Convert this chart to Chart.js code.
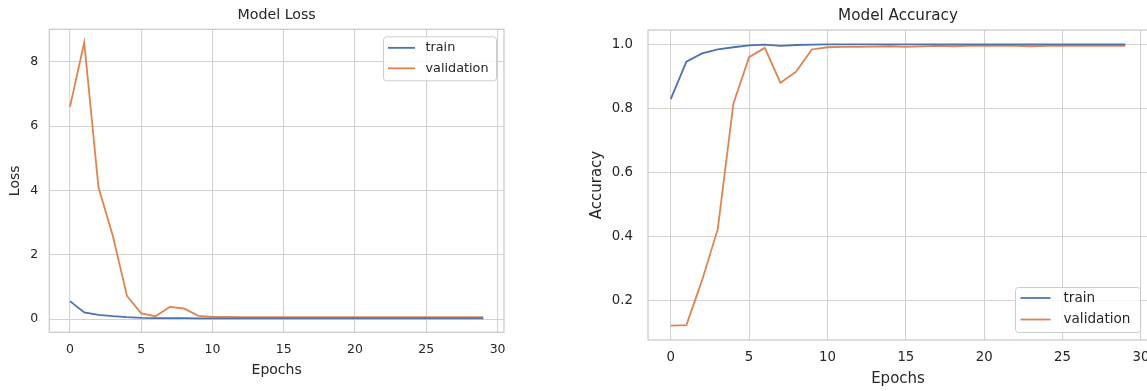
<!DOCTYPE html>
<html><head><meta charset="utf-8">
<script src="https://cdn.jsdelivr.net/npm/chart.js@4.4.0/dist/chart.umd.min.js"></script>
<style>
html,body{margin:0;padding:0;background:#fff;overflow:hidden;width:1147px;height:391px;}
canvas{position:absolute;top:0;}
#c1{left:0;} #c2{left:560px;}
</style></head><body>
<canvas id="c1" width="560" height="391"></canvas>
<canvas id="c2" width="600" height="391"></canvas>
<script>
const epochs = [0,1,2,3,4,5,6,7,8,9,10,11,12,13,14,15,16,17,18,19,20,21,22,23,24,25,26,27,28,29];
const trainLoss = [0.56,0.21,0.13,0.09,0.06,0.04,0.03,0.03,0.03,0.02,0.02,0.02,0.02,0.02,0.02,0.02,0.02,0.02,0.02,0.02,0.02,0.02,0.02,0.02,0.02,0.02,0.02,0.02,0.02,0.02];
const valLoss = [6.6,8.6,4.1,2.6,0.72,0.18,0.09,0.38,0.33,0.1,0.07,0.07,0.06,0.06,0.06,0.06,0.06,0.06,0.06,0.06,0.06,0.06,0.06,0.06,0.06,0.06,0.06,0.06,0.06,0.06];
const trainAcc = [0.829,0.946,0.972,0.984,0.991,0.997,0.999,0.995,0.998,0.999,1.0,1.0,1.0,1.0,1.0,1.0,1.0,1.0,1.0,1.0,1.0,1.0,1.0,1.0,1.0,1.0,1.0,1.0,1.0,1.0];
const valAcc = [0.123,0.125,0.265,0.424,0.816,0.960,0.989,0.880,0.915,0.984,0.991,0.992,0.992,0.993,0.994,0.992,0.994,0.995,0.994,0.995,0.995,0.995,0.995,0.994,0.995,0.995,0.995,0.995,0.995,0.995];
const epochTicks = [0,5,10,15,20,25,30];
const lossTicks = [0,2,4,6,8];
const accTicks = [0.2,0.4,0.6,0.8,1.0];
const seriesNames = ['train','validation'];
const seriesColors = ['#4c72b0','#dd8452'];

const FONT = "'DejaVu Sans', sans-serif";
const TEXT = '#262626';
const GRID = '#d2d2d2';
const SPINE = '#cccccc';

const framePlugin = {
  id: 'frame',
  afterDatasetsDraw(chart) {
    const {ctx, chartArea: a} = chart;
    ctx.save();
    ctx.strokeStyle = SPINE; ctx.lineWidth = 1.3;
    ctx.strokeRect(a.left, a.top, a.right - a.left, a.bottom - a.top);
    ctx.restore();
  }
};

const mplLegend = {
  id: 'mplLegend',
  afterDraw(chart, args, o) {
    const {ctx, chartArea: a} = chart;
    const x0 = a.right - o.inset - o.w;
    const y0 = o.corner === 'upper' ? a.top + o.inset : a.bottom - o.inset - o.h;
    const r = 3;
    ctx.save();
    ctx.beginPath();
    ctx.moveTo(x0 + r, y0);
    ctx.lineTo(x0 + o.w - r, y0); ctx.arcTo(x0 + o.w, y0, x0 + o.w, y0 + r, r);
    ctx.lineTo(x0 + o.w, y0 + o.h - r); ctx.arcTo(x0 + o.w, y0 + o.h, x0 + o.w - r, y0 + o.h, r);
    ctx.lineTo(x0 + r, y0 + o.h); ctx.arcTo(x0, y0 + o.h, x0, y0 + o.h - r, r);
    ctx.lineTo(x0, y0 + r); ctx.arcTo(x0, y0, x0 + r, y0, r);
    ctx.closePath();
    ctx.fillStyle = 'rgba(255,255,255,0.8)'; ctx.fill();
    ctx.strokeStyle = SPINE; ctx.lineWidth = 1; ctx.stroke();
    ctx.font = o.fontSize + 'px ' + FONT;
    ctx.textBaseline = 'middle'; ctx.textAlign = 'left';
    chart.data.datasets.forEach((ds, i) => {
      const y = y0 + (i === 0 ? o.row0 : o.row1);
      ctx.strokeStyle = ds.borderColor; ctx.lineWidth = ds.borderWidth;
      ctx.beginPath(); ctx.moveTo(x0 + o.hx, y); ctx.lineTo(x0 + o.hx + o.hl, y); ctx.stroke();
      ctx.fillStyle = TEXT;
      ctx.fillText(ds.label, x0 + o.tx, y);
    });
    ctx.restore();
  }
};

function makeDatasets(a, b) {
  return [a, b].map((vals, i) => ({
    label: seriesNames[i],
    data: epochs.map((e, k) => ({x: e, y: vals[k]})),
    borderColor: seriesColors[i],
    backgroundColor: seriesColors[i],
    borderWidth: 1.8,
    pointRadius: 0,
    tension: 0,
    fill: false
  }));
}

function makeChart(id, cfg) {
  return new Chart(document.getElementById(id), {
    type: 'line',
    data: {datasets: makeDatasets(cfg.a, cfg.b)},
    plugins: [framePlugin, mplLegend],
    options: {
      responsive: false,
      animation: false,
      devicePixelRatio: 1,
      layout: {padding: {left: 0, top: 0, right: cfg.padRight, bottom: 0}},
      plugins: {
        legend: {display: false},
        tooltip: {enabled: false},
        title: {
          display: true, text: cfg.title, fullSize: false, color: TEXT,
          font: {family: FONT, size: cfg.titleSize, weight: 'normal', lineHeight: 1.2},
          padding: {top: cfg.titlePadTop, bottom: cfg.titlePadBottom}
        },
        mplLegend: cfg.legend
      },
      scales: {
        x: {
          type: 'linear', min: -1.45, max: 30.45,
          afterBuildTicks: s => { s.ticks = epochTicks.map(v => ({value: v})); },
          afterFit: s => { s.height = cfg.xHeight; },
          grid: {color: GRID, lineWidth: 1.1, drawTicks: false},
          border: {display: false},
          ticks: {color: TEXT, font: {family: FONT, size: cfg.tickSize}, padding: cfg.xTickPad, maxRotation: 0,
                  callback: v => String(v)},
          title: {display: true, text: 'Epochs', color: TEXT,
                  font: {family: FONT, size: cfg.labelSize, lineHeight: 1.2},
                  padding: {top: 0, bottom: cfg.xTitlePad}}
        },
        y: {
          type: 'linear', min: cfg.yMin, max: cfg.yMax,
          afterBuildTicks: s => { s.ticks = cfg.yTicks.map(v => ({value: v})); },
          afterFit: s => { s.width = cfg.yWidth; },
          grid: {color: GRID, lineWidth: 1.1, drawTicks: false},
          border: {display: false},
          ticks: {color: TEXT, font: {family: FONT, size: cfg.tickSize}, padding: cfg.yTickPad,
                  callback: v => cfg.yFmt(v)},
          title: {display: true, text: cfg.yLabel, color: TEXT,
                  font: {family: FONT, size: cfg.labelSize, lineHeight: 1.2},
                  padding: {top: cfg.yTitlePad, bottom: 0}}
        }
      }
    }
  });
}

makeChart('c1', {
  a: trainLoss, b: valLoss, title: 'Model Loss', yLabel: 'Loss',
  yMin: -0.41, yMax: 9.01, yTicks: lossTicks, yFmt: v => String(v),
  padRight: 56, titleSize: 14.2, titlePadTop: 6.5, titlePadBottom: 5.8,
  xHeight: 58.7, yWidth: 49.3, tickSize: 12.5, labelSize: 14,
  xTickPad: 10.2, xTitlePad: 12.6, yTickPad: 11, yTitlePad: 6.6,
  legend: {corner: 'upper', inset: 7.5, w: 113, h: 44, hx: 4.5, hl: 27, tx: 42, row0: 11, row1: 31.5, fontSize: 12.8}
});

makeChart('c2', {
  a: trainAcc, b: valAcc, title: 'Model Accuracy', yLabel: 'Accuracy',
  yMin: 0.0785, yMax: 1.0446, yTicks: accTicks, yFmt: v => v.toFixed(1),
  padRight: 12, titleSize: 15.2, titlePadTop: 6.6, titlePadBottom: 5.2,
  xHeight: 51, yWidth: 88, tickSize: 13.3, labelSize: 15,
  xTickPad: 10, xTitlePad: 3, yTickPad: 15, yTitlePad: 28,
  legend: {corner: 'lower', inset: 7.5, w: 125, h: 45, hx: 5, hl: 30, tx: 48, row0: 10.5, row1: 32, fontSize: 13.6}
});
</script>
</body></html>
